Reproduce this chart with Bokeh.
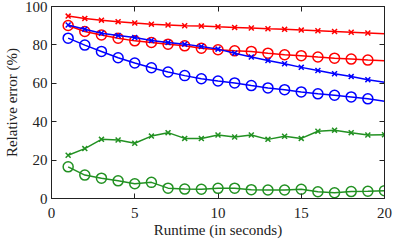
from bokeh.plotting import figure
from bokeh.models import LinearAxis, FixedTicker, Range1d, CustomLabelingPolicy
from bokeh.embed import file_html
from bokeh.resources import INLINE

runtime = list(range(1, 21))

red_x = [95.0, 93.8, 92.9, 92.1, 91.4, 90.8, 90.4, 90.0, 89.8, 89.4,
         89.1, 88.8, 88.4, 88.1, 87.7, 87.4, 87.0, 86.6, 86.2, 85.8]
red_o = [90.1, 87.0, 85.2, 83.5, 82.1, 81.3, 80.4, 79.5, 78.3, 77.5,
         76.9, 76.6, 75.7, 74.9, 74.4, 73.7, 73.1, 72.6, 72.1, 71.8]
blue_x = [90.4, 88.2, 86.1, 84.9, 83.8, 82.3, 81.2, 80.4, 79.2, 77.8,
          75.7, 73.7, 71.9, 70.2, 68.3, 66.7, 65.0, 63.5, 61.9, 60.5]
blue_o = [83.5, 79.9, 76.6, 73.3, 70.6, 68.1, 65.9, 64.0, 62.4, 61.2,
          60.2, 58.8, 57.6, 56.7, 55.5, 54.5, 53.8, 52.9, 51.9, 50.7]
green_x = [22.5, 26.0, 30.8, 30.5, 28.8, 32.5, 34.3, 31.3, 31.2, 33.1,
           32.0, 33.1, 30.8, 32.4, 31.3, 35.0, 35.6, 34.3, 33.1, 33.2]
green_o = [16.5, 12.2, 10.6, 9.2, 7.7, 8.4, 5.4, 4.9, 4.8, 5.3,
           5.4, 4.6, 4.4, 4.4, 4.8, 3.5, 3.0, 3.6, 3.8, 4.1]

x_ticks = [0, 5, 10, 15, 20]
y_ticks = [0, 20, 40, 60, 80, 100]

RED = "#ff0000"
BLUE = "#0000ff"
GREEN = "#229122"
FONT = "Liberation Serif"
TXT = "#222222"

p = figure(width=394, height=240, output_backend="svg", toolbar_location=None,
           x_range=Range1d(0, 20), y_range=Range1d(0, 100),
           min_border_left=50, min_border_right=10, min_border_top=6, min_border_bottom=40)
p.grid.visible = False
p.outline_line_color = "#222222"
p.outline_line_width = 1

series = [
    (red_x, RED, "x", 19),
    (red_o, RED, "circle", 19),
    (blue_x, BLUE, "x", 19),
    (blue_o, BLUE, "circle", 19),
    (green_x, GREEN, "x", 20),
    (green_o, GREEN, "circle", 20),
]
for vals, col, mk, n in series:
    p.line(runtime, vals, line_color=col, line_width=1.5)
    size = 10 if mk == "circle" else 7
    p.scatter(runtime[:n], vals[:n], marker=mk, size=size, line_color=col,
              fill_color=None, line_width=1.5)

hide_labels = CustomLabelingPolicy(
    code="for (let i = 0; i < indices.size; i++) { indices.unset(i) } return indices")

def style(ax, labels=True):
    ax.axis_line_color = "#222222"
    ax.major_tick_in = 5
    ax.major_tick_out = 0
    ax.minor_tick_in = 0
    ax.minor_tick_out = 0
    ax.major_tick_line_color = "#222222"
    ax.major_label_text_font = FONT
    ax.major_label_text_font_size = "15px"
    ax.major_label_text_color = TXT
    ax.axis_label_text_font = FONT
    ax.axis_label_text_font_size = "15px"
    ax.axis_label_text_font_style = "normal"
    ax.axis_label_text_color = TXT
    if not labels:
        ax.major_label_policy = hide_labels
        ax.major_label_text_font_size = "0px"
        ax.major_label_standoff = 0
        ax.axis_label_standoff = 0

xa = p.xaxis[0]
xa.ticker = FixedTicker(ticks=x_ticks)
xa.axis_label = "Runtime (in seconds)"
style(xa)
xa.major_label_standoff = 9
xa.axis_label_standoff = 1

ya = p.yaxis[0]
ya.ticker = FixedTicker(ticks=y_ticks)
ya.axis_label = "Relative error (%)"
style(ya)
ya.major_label_standoff = 4
ya.axis_label_standoff = 2

top = LinearAxis(ticker=FixedTicker(ticks=x_ticks))
style(top, labels=False)
p.add_layout(top, "above")
right = LinearAxis(ticker=FixedTicker(ticks=y_ticks))
style(right, labels=False)
p.add_layout(right, "right")

open("out.html", "w").write(file_html(p, INLINE))
